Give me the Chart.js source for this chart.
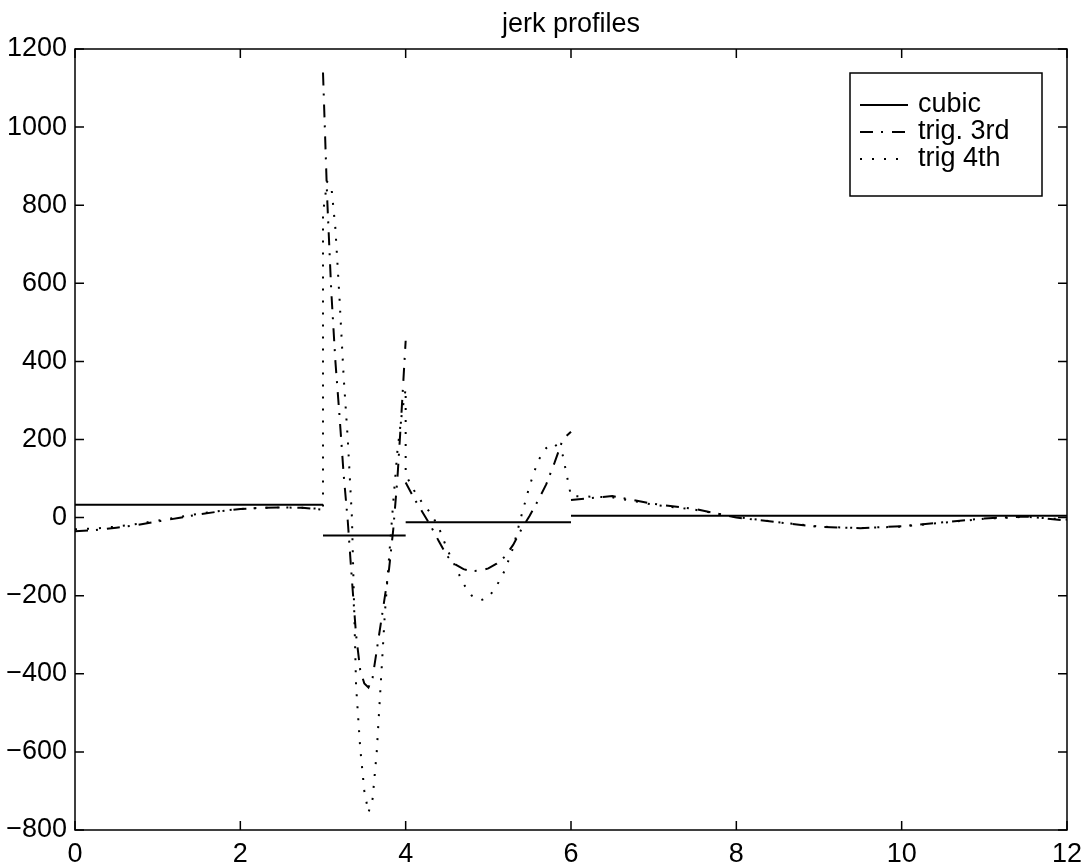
<!DOCTYPE html>
<html>
<head>
<meta charset="utf-8">
<title>jerk profiles</title>
<script src="https://cdn.jsdelivr.net/npm/chart.js@4.4.1/dist/chart.umd.min.js"></script>
<style>
  html, body { margin: 0; padding: 0; background: #fff; }
  #wrap { width: 1086px; height: 868px; }
</style>
</head>
<body>
<div id="wrap"><canvas id="jerkChart"></canvas></div>
<script>
// x in seconds, y is jerk; null marks a break between pieces
const cubicX = [0, 3, 3, 3, 4, 4, 4, 6, 6, 6, 12];
const cubicY = [33, 33, null, -46, -46, null, -12, -12, null, 5, 5];

const trig3X = [
    0, 0.25, 0.5, 0.75, 1, 1.25, 1.5, 1.75, 2, 2.25, 2.5, 2.75, 3,
    3,
    3, 3.05, 3.1, 3.15, 3.2, 3.25, 3.3, 3.35, 3.4, 3.45, 3.5, 3.55, 3.6, 3.65, 3.7, 3.75, 3.8, 3.85, 3.9, 3.95, 4,
    4,
    4, 4.1, 4.2, 4.3, 4.4, 4.5, 4.6, 4.7, 4.8, 4.9, 5, 5.1, 5.2, 5.3, 5.4, 5.5, 5.6, 5.7, 5.8, 5.9, 6,
    6,
    6, 6.5, 7, 7.5, 8, 8.5, 9, 9.5, 10, 10.5, 11, 11.5, 12
];
const trig3Y = [
    -35, -32, -26, -19, -10, -1, 8, 16, 22, 25, 26, 25, 20,
    null,
    1140, 820, 580, 400, 260, 110, -10, -160, -300, -390, -425, -435, -410, -340, -270, -200, -130, -30, 100, 270, 453,
    null,
    90, 50, 15, -20, -60, -98, -120, -132, -137, -136, -130, -118, -100, -70, -30, 5, 43, 85, 140, 200, 220,
    null,
    45, 55, 35, 22, 0, -12, -24, -27, -22, -12, -2, 3, -8
];

const trig4X = [
    0, 0.25, 0.5, 0.75, 1, 1.25, 1.5, 1.75, 2, 2.25, 2.5, 2.75, 3,
    3, 3.05, 3.1, 3.15, 3.2, 3.25, 3.3, 3.35, 3.4, 3.45, 3.5, 3.55, 3.6, 3.65, 3.7, 3.75, 3.8, 3.85, 3.9, 3.95, 4,
    4, 4.1, 4.2, 4.3, 4.4, 4.5, 4.6, 4.7, 4.8, 4.9, 5, 5.1, 5.2, 5.3, 5.4, 5.5, 5.6, 5.7, 5.8, 5.9, 6,
    6.5, 7, 7.5, 8, 8.5, 9, 9.5, 10, 10.5, 11, 11.5, 12
];
const trig4Y = [
    -30, -28, -23, -16, -8, 1, 10, 17, 22, 25, 26, 25, 22,
    780, 860, 850, 740, 560, 360, 200, 0, -430, -590, -700, -755, -720, -600, -420, -240, -100, 40, 170, 260, 330,
    110, 70, 38, 12, -25, -80, -125, -170, -200, -212, -205, -175, -135, -77, 5, 82, 145, 178, 190, 160, 55,
    52, 33, 20, 2, -12, -23, -27, -23, -13, -3, 2, -5
];

const seriesNames = ['cubic', 'trig. 3rd', 'trig 4th'];
const titleText = 'jerk profiles';
const xTicksRange = [0, 12, 2];
const yTicksRange = [-800, 1200, 200];

const FONT = '"Liberation Sans", Arial, Helvetica, sans-serif';
const FONT_SIZE = 27;

function toPoints(xs, ys) {
    return xs.map((x, i) => ({ x: x, y: ys[i] }));
}

// title, box round the axes, inward tick marks on all four sides, legend
const matlabFrame = {
    id: 'matlabFrame',
    afterDraw(chart) {
        const ctx = chart.ctx;
        const a = chart.chartArea;
        const xs = chart.scales.x;
        const ys = chart.scales.y;
        const tl = 9;
        ctx.save();

        ctx.fillStyle = '#000';
        ctx.font = FONT_SIZE + 'px ' + FONT;
        ctx.textAlign = 'center';
        ctx.textBaseline = 'alphabetic';
        ctx.fillText(titleText, (a.left + a.right) / 2, 32);

        ctx.strokeStyle = '#000';
        ctx.lineWidth = 1.5;
        ctx.setLineDash([]);
        ctx.strokeRect(a.left, a.top, a.right - a.left, a.bottom - a.top);
        ctx.beginPath();
        xs.ticks.forEach(t => {
            const px = xs.getPixelForValue(t.value);
            ctx.moveTo(px, a.bottom); ctx.lineTo(px, a.bottom - tl);
            ctx.moveTo(px, a.top); ctx.lineTo(px, a.top + tl);
        });
        ys.ticks.forEach(t => {
            const py = ys.getPixelForValue(t.value);
            ctx.moveTo(a.left, py); ctx.lineTo(a.left + tl, py);
            ctx.moveTo(a.right, py); ctx.lineTo(a.right - tl, py);
        });
        ctx.stroke();

        // legend
        const bx = 850, by = 73, bw = 192, bh = 123;
        ctx.fillStyle = '#fff';
        ctx.fillRect(bx, by, bw, bh);
        ctx.strokeRect(bx, by, bw, bh);
        ctx.textAlign = 'left';
        ctx.textBaseline = 'middle';
        ctx.fillStyle = '#000';
        chart.data.datasets.forEach((ds, i) => {
            const ry = by + 32 + i * 27;
            ctx.beginPath();
            ctx.lineWidth = ds.borderWidth;
            ctx.setLineDash(ds.borderDash || []);
            ctx.moveTo(bx + 10, ry);
            ctx.lineTo(bx + 58, ry);
            ctx.stroke();
            ctx.setLineDash([]);
            ctx.fillText(ds.label, bx + 68, ry);
        });
        ctx.restore();
    }
};

const ctx = document.getElementById('jerkChart').getContext('2d');
const jerkChart = new Chart(ctx, {
    type: 'line',
    data: {
        datasets: [
            {
                label: seriesNames[0],
                data: toPoints(cubicX, cubicY),
                borderColor: '#000',
                borderWidth: 2,
                pointRadius: 0,
                tension: 0,
                spanGaps: false
            },
            {
                label: seriesNames[1],
                data: toPoints(trig3X, trig3Y),
                borderColor: '#000',
                borderWidth: 2,
                borderDash: [13, 8, 2, 9],
                pointRadius: 0,
                tension: 0,
                spanGaps: false
            },
            {
                label: seriesNames[2],
                data: toPoints(trig4X, trig4Y),
                borderColor: '#000',
                borderWidth: 2,
                borderDash: [2, 10],
                pointRadius: 0,
                tension: 0,
                spanGaps: false
            }
        ]
    },
    options: {
        responsive: true,
        maintainAspectRatio: false,
        animation: false,
        layout: { padding: { left: 0, right: 19, top: 49, bottom: 0 } },
        plugins: {
            legend: { display: false },
            tooltip: { enabled: false },
            title: { display: false }
        },
        scales: {
            x: {
                type: 'linear',
                min: xTicksRange[0],
                max: xTicksRange[1],
                grid: { display: false, drawTicks: false },
                border: { display: false },
                ticks: {
                    stepSize: xTicksRange[2],
                    color: '#000',
                    padding: 8,
                    maxRotation: 0,
                    font: { family: FONT, size: FONT_SIZE }
                },
                afterFit(scale) {
                    scale.height = 38;
                    scale.paddingLeft = 0;
                    scale.paddingRight = 0;
                }
            },
            y: {
                type: 'linear',
                min: yTicksRange[0],
                max: yTicksRange[1],
                grid: { display: false, drawTicks: false },
                border: { display: false },
                ticks: {
                    stepSize: yTicksRange[2],
                    color: '#000',
                    padding: 8,
                    font: { family: FONT, size: FONT_SIZE },
                    callback: v => String(v).replace('-', '\u2212')
                },
                afterFit(scale) {
                    scale.width = 75;
                    scale.paddingTop = 0;
                    scale.paddingBottom = 0;
                }
            }
        }
    },
    plugins: [matlabFrame]
});
</script>
</body>
</html>
